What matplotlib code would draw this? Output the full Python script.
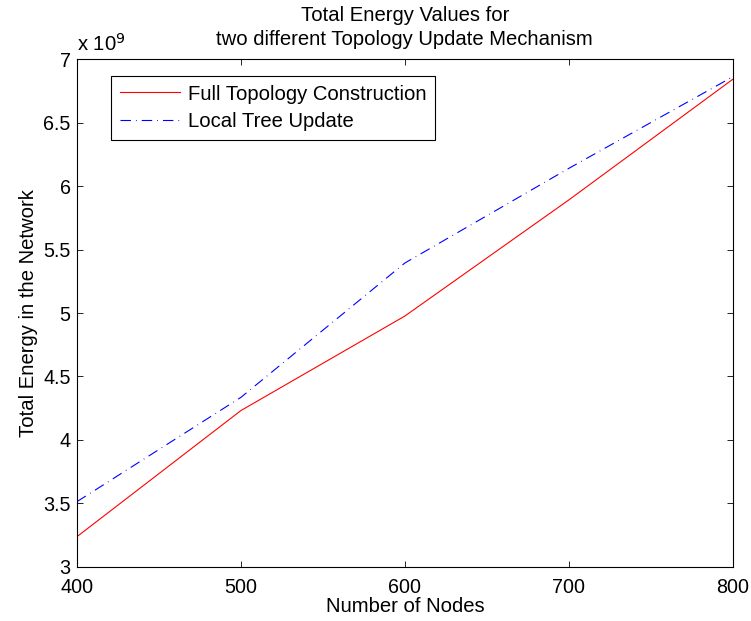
import matplotlib
matplotlib.use("Agg")
import matplotlib.pyplot as plt

nodes = [400, 500, 600, 700, 800]
full_topology = [3.237, 4.231, 4.976, 5.891, 6.842]   # x 1e9
local_tree = [3.513, 4.335, 5.394, 6.14, 6.862]       # x 1e9
xticks = [400, 500, 600, 700, 800]
yticks = [3, 3.5, 4, 4.5, 5, 5.5, 6, 6.5, 7]

plt.rcParams['font.family'] = ['Liberation Sans', 'DejaVu Sans']
fs = 14.6
tfs = 14.2

fig = plt.figure(figsize=(7.51, 6.21), dpi=100)
ax = fig.add_axes([0.1025, 0.0874, 0.9756 - 0.1025, 0.9045 - 0.0874])

ax.plot(nodes, full_topology, color='red', lw=0.8, label='Full Topology Construction')
ax.plot(nodes, local_tree, color='blue', lw=0.8, dashes=(9.4, 4.5, 0.7, 4.5),
        label='Local Tree Update')

ax.set_xlim(400, 800)
ax.set_ylim(3, 7)
ax.set_xticks(xticks)
ax.set_yticks(yticks)
ax.set_xticklabels([str(v) for v in xticks])
ax.set_yticklabels([f"{v:g}" for v in yticks])
ax.tick_params(direction='in', length=4.5, width=0.6, top=True, right=True,
               labelsize=tfs)
ax.tick_params(axis='x', pad=7.8)
ax.tick_params(axis='y', pad=4.5)
for s in ax.spines.values():
    s.set_linewidth(0.8)

ax.set_xlabel('Number of Nodes', fontsize=fs, labelpad=0)
ax.set_ylabel('Total Energy in the Network', fontsize=fs, labelpad=4)
ax.set_title('Total Energy Values for\ntwo different Topology Update Mechanism',
             fontsize=fs, pad=10, linespacing=1.33)
ax.text(0.0, 1.0177, r'x 10$^{9}$', transform=ax.transAxes, fontsize=fs,
        ha='left', va='baseline')

leg = ax.legend(loc='upper left', bbox_to_anchor=(0.052, 0.967), fontsize=fs,
                frameon=True, fancybox=False, edgecolor='black', framealpha=1,
                handlelength=3.0, borderpad=0.42, labelspacing=0.42,
                handletextpad=0.35, borderaxespad=0)
leg.get_frame().set_linewidth(0.8)

fig.savefig('out.png', dpi=100, facecolor='white')
